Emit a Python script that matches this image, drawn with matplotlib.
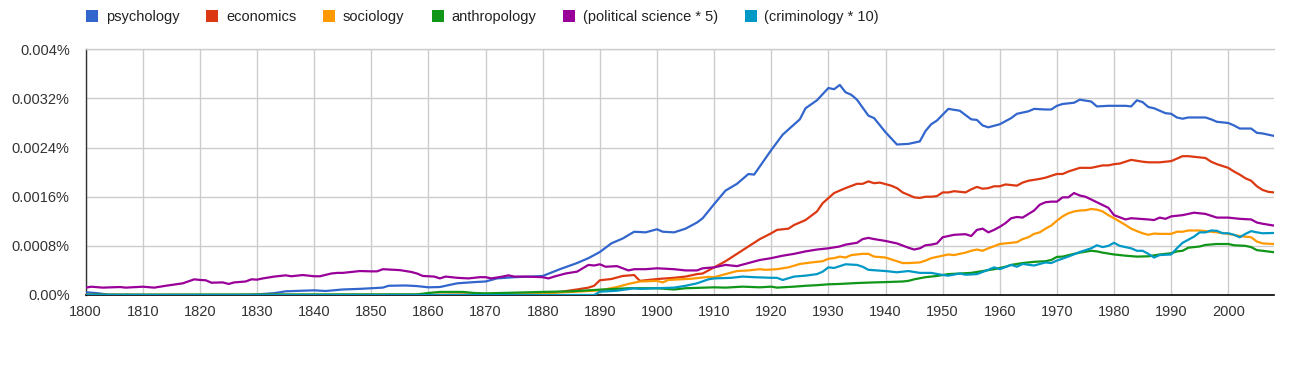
import matplotlib
matplotlib.use("Agg")
import matplotlib.pyplot as plt
from matplotlib.lines import Line2D
import numpy as np

plt.rcParams['font.family'] = ['Liberation Sans', 'DejaVu Sans']

# values are in units of 0.0001 %
psych_years = [1800, 1802, 1804, 1810, 1820, 1828, 1830, 1833, 1835, 1838, 1840, 1842, 1845, 1848, 1850, 1852, 1853, 1856, 1858, 1860, 1862, 1865, 1868, 1870, 1872, 1875, 1878, 1880, 1883, 1886, 1888, 1890, 1892, 1894, 1896, 1898, 1900, 1901, 1903, 1905, 1907, 1908, 1910, 1912, 1914, 1916, 1917, 1920, 1922, 1925, 1926, 1928, 1930, 1931, 1932, 1933, 1934, 1935, 1937, 1938, 1940, 1942, 1944, 1946, 1947, 1948, 1949, 1951, 1953, 1955, 1956, 1957, 1958, 1960, 1962, 1963, 1965, 1966, 1968, 1969, 1970, 1971, 1973, 1974, 1976, 1977, 1979, 1982, 1983, 1984, 1985, 1986, 1987, 1989, 1990, 1991, 1992, 1993, 1996, 1997, 1998, 2000, 2001, 2002, 2004, 2005, 2006, 2008]
psych_vals = [0.45, 0.3, 0.05, 0.0, 0.0, 0.0, 0.1, 0.3, 0.6, 0.7, 0.76, 0.65, 0.9, 1.0, 1.1, 1.2, 1.5, 1.55, 1.45, 1.25, 1.3, 1.9, 2.1, 2.2, 2.7, 2.9, 3.0, 3.1, 4.2, 5.2, 6.0, 7.0, 8.4, 9.2, 10.3, 10.2, 10.7, 10.3, 10.2, 10.8, 11.8, 12.5, 14.8, 17.0, 18.1, 19.7, 19.6, 23.6, 26.1, 28.6, 30.4, 31.7, 33.7, 33.5, 34.2, 33.0, 32.6, 31.8, 29.2, 28.8, 26.5, 24.5, 24.6, 25.0, 26.7, 27.8, 28.4, 30.3, 30.0, 28.6, 28.5, 27.6, 27.3, 27.8, 28.8, 29.5, 29.9, 30.3, 30.2, 30.2, 30.8, 31.1, 31.3, 31.8, 31.5, 30.7, 30.8, 30.8, 30.7, 31.7, 31.4, 30.6, 30.4, 29.6, 29.5, 28.9, 28.7, 28.9, 28.9, 28.6, 28.2, 28.0, 27.6, 27.1, 27.1, 26.4, 26.3, 25.9]

econ_years = [1800, 1860, 1870, 1875, 1880, 1883, 1886, 1888, 1889, 1890, 1892, 1894, 1896, 1897, 1900, 1903, 1905, 1907, 1908, 1910, 1912, 1914, 1916, 1918, 1920, 1921, 1923, 1924, 1926, 1928, 1929, 1931, 1933, 1935, 1936, 1937, 1938, 1939, 1941, 1942, 1943, 1944, 1945, 1946, 1947, 1948, 1949, 1950, 1951, 1952, 1954, 1955, 1956, 1957, 1958, 1959, 1960, 1961, 1963, 1964, 1965, 1967, 1968, 1970, 1971, 1972, 1974, 1976, 1978, 1979, 1980, 1981, 1983, 1985, 1986, 1988, 1990, 1991, 1992, 1993, 1995, 1996, 1997, 1998, 2000, 2001, 2002, 2003, 2004, 2005, 2006, 2007, 2008]
econ_vals = [0.0, 0.0, 0.1, 0.15, 0.27, 0.5, 0.9, 1.2, 1.5, 2.4, 2.6, 3.1, 3.25, 2.3, 2.6, 2.8, 3.0, 3.4, 3.5, 4.5, 5.5, 6.7, 7.9, 9.1, 10.05, 10.6, 10.8, 11.4, 12.2, 13.6, 14.95, 16.6, 17.4, 18.1, 18.1, 18.5, 18.2, 18.3, 17.8, 17.4, 16.7, 16.3, 15.9, 15.8, 16.0, 16.0, 16.1, 16.7, 16.7, 16.9, 16.7, 17.2, 17.6, 17.3, 17.4, 17.7, 17.7, 18.0, 17.8, 18.3, 18.6, 18.9, 19.1, 19.7, 19.7, 20.1, 20.7, 20.7, 21.1, 21.1, 21.3, 21.4, 22.0, 21.7, 21.6, 21.6, 21.8, 22.2, 22.6, 22.6, 22.4, 22.3, 21.7, 21.3, 20.7, 20.1, 19.6, 19.0, 18.6, 17.7, 17.1, 16.8, 16.7]

soc_years = [1800, 1870, 1875, 1880, 1885, 1890, 1893, 1895, 1897, 1900, 1901, 1902, 1906, 1909, 1910, 1912, 1914, 1916, 1918, 1919, 1921, 1923, 1925, 1927, 1929, 1930, 1931, 1932, 1933, 1934, 1936, 1937, 1938, 1940, 1941, 1943, 1944, 1946, 1947, 1948, 1950, 1951, 1952, 1953, 1954, 1955, 1956, 1957, 1958, 1960, 1961, 1963, 1964, 1965, 1966, 1967, 1968, 1969, 1970, 1971, 1972, 1973, 1974, 1975, 1976, 1977, 1978, 1979, 1980, 1981, 1982, 1983, 1984, 1985, 1986, 1987, 1988, 1990, 1991, 1992, 1993, 1995, 1996, 1998, 2000, 2002, 2004, 2005, 2006, 2008]
soc_vals = [0.0, 0.05, 0.15, 0.27, 0.5, 0.75, 1.3, 1.8, 2.2, 2.3, 2.05, 2.45, 2.65, 2.95, 2.9, 3.4, 3.9, 4.0, 4.2, 4.1, 4.2, 4.5, 5.05, 5.3, 5.5, 5.9, 6.0, 6.25, 6.1, 6.5, 6.7, 6.7, 6.25, 6.1, 5.8, 5.2, 5.2, 5.3, 5.6, 6.0, 6.4, 6.6, 6.5, 6.7, 6.9, 7.2, 7.4, 7.2, 7.6, 8.3, 8.4, 8.6, 9.1, 9.4, 9.95, 10.2, 10.8, 11.3, 12.1, 12.8, 13.3, 13.6, 13.75, 13.8, 14.0, 13.9, 13.6, 13.0, 12.5, 11.95, 11.4, 10.8, 10.4, 10.05, 9.8, 10.0, 9.95, 9.95, 10.3, 10.3, 10.5, 10.5, 10.4, 10.2, 9.95, 9.6, 9.4, 8.7, 8.4, 8.3]

anth_years = [1800, 1858, 1860, 1862, 1866, 1868, 1870, 1875, 1880, 1885, 1890, 1895, 1900, 1903, 1905, 1910, 1912, 1915, 1918, 1920, 1921, 1924, 1926, 1928, 1930, 1932, 1935, 1938, 1940, 1943, 1944, 1945, 1947, 1949, 1951, 1955, 1957, 1959, 1961, 1962, 1964, 1966, 1968, 1969, 1970, 1971, 1973, 1974, 1976, 1977, 1978, 1980, 1982, 1984, 1986, 1988, 1990, 1991, 1992, 1993, 1995, 1996, 1998, 2000, 2001, 2003, 2004, 2005, 2006, 2008]
anth_vals = [0.05, 0.1, 0.33, 0.5, 0.5, 0.33, 0.27, 0.38, 0.5, 0.6, 0.87, 1.1, 1.1, 0.9, 1.1, 1.25, 1.2, 1.36, 1.25, 1.36, 1.2, 1.36, 1.5, 1.6, 1.74, 1.8, 1.95, 2.05, 2.1, 2.2, 2.3, 2.55, 2.9, 3.1, 3.4, 3.6, 3.9, 4.2, 4.6, 4.9, 5.2, 5.4, 5.5, 5.7, 6.2, 6.25, 6.7, 6.9, 7.2, 7.1, 6.9, 6.6, 6.4, 6.25, 6.3, 6.6, 6.8, 7.1, 7.2, 7.7, 7.9, 8.15, 8.3, 8.3, 8.1, 8.0, 7.8, 7.3, 7.2, 6.96]

polsci_years = [1800, 1801, 1803, 1806, 1807, 1810, 1812, 1814, 1817, 1819, 1820, 1821, 1822, 1824, 1825, 1826, 1828, 1829, 1830, 1831, 1833, 1835, 1836, 1838, 1840, 1841, 1843, 1844, 1845, 1847, 1848, 1850, 1851, 1852, 1853, 1855, 1857, 1858, 1859, 1861, 1862, 1863, 1865, 1867, 1869, 1870, 1871, 1873, 1874, 1875, 1877, 1880, 1881, 1882, 1884, 1886, 1888, 1889, 1890, 1891, 1893, 1895, 1896, 1898, 1900, 1903, 1905, 1907, 1908, 1910, 1912, 1914, 1916, 1918, 1920, 1922, 1924, 1926, 1928, 1930, 1932, 1933, 1935, 1936, 1937, 1938, 1940, 1942, 1944, 1945, 1946, 1947, 1948, 1949, 1950, 1951, 1952, 1954, 1955, 1956, 1957, 1958, 1959, 1960, 1961, 1962, 1963, 1964, 1966, 1967, 1968, 1969, 1970, 1971, 1972, 1973, 1974, 1975, 1977, 1979, 1980, 1982, 1983, 1986, 1987, 1988, 1989, 1990, 1992, 1994, 1995, 1996, 1997, 1998, 2000, 2002, 2004, 2005, 2006, 2008]
polsci_vals = [1.2, 1.35, 1.2, 1.3, 1.2, 1.35, 1.2, 1.5, 1.9, 2.55, 2.45, 2.4, 2.0, 2.05, 1.8, 2.05, 2.2, 2.55, 2.5, 2.7, 3.0, 3.2, 3.05, 3.25, 3.05, 3.05, 3.5, 3.6, 3.6, 3.8, 3.9, 3.85, 3.85, 4.2, 4.15, 4.05, 3.75, 3.5, 3.1, 3.0, 2.7, 3.0, 2.8, 2.7, 2.9, 2.9, 2.7, 3.0, 3.2, 3.0, 3.0, 2.9, 2.7, 3.0, 3.5, 3.8, 4.9, 4.8, 5.0, 4.6, 4.7, 4.0, 4.2, 4.2, 4.35, 4.2, 4.0, 4.0, 4.35, 4.5, 4.9, 4.7, 5.2, 5.7, 6.0, 6.4, 6.7, 7.1, 7.4, 7.6, 7.9, 8.2, 8.5, 9.1, 9.3, 9.1, 8.8, 8.4, 7.7, 7.4, 7.6, 8.1, 8.2, 8.4, 9.4, 9.6, 9.8, 9.9, 9.6, 10.6, 10.8, 10.2, 10.6, 11.1, 11.7, 12.5, 12.7, 12.6, 13.75, 14.7, 15.1, 15.2, 15.2, 15.9, 15.9, 16.6, 16.2, 16.0, 15.1, 14.2, 13.0, 12.3, 12.5, 12.3, 12.2, 12.6, 12.4, 12.8, 13.0, 13.4, 13.3, 13.2, 12.9, 12.6, 12.6, 12.4, 12.3, 11.8, 11.6, 11.3]

crim_years = [1800, 1889, 1890, 1893, 1896, 1897, 1900, 1903, 1905, 1907, 1909, 1910, 1913, 1915, 1917, 1920, 1921, 1922, 1924, 1926, 1928, 1929, 1930, 1931, 1932, 1933, 1935, 1936, 1937, 1940, 1942, 1944, 1946, 1948, 1950, 1951, 1953, 1954, 1956, 1958, 1959, 1960, 1962, 1963, 1964, 1966, 1968, 1969, 1970, 1972, 1974, 1976, 1977, 1978, 1979, 1980, 1981, 1982, 1983, 1984, 1985, 1986, 1987, 1988, 1990, 1991, 1992, 1994, 1995, 1996, 1997, 1998, 1999, 2000, 2001, 2002, 2003, 2004, 2005, 2006, 2008]
crim_vals = [0.0, 0.0, 0.54, 0.7, 1.1, 1.0, 1.1, 1.2, 1.5, 1.9, 2.55, 2.7, 2.8, 3.0, 2.9, 2.8, 2.8, 2.45, 3.0, 3.15, 3.4, 3.8, 4.5, 4.4, 4.7, 5.0, 4.9, 4.6, 4.1, 3.9, 3.7, 3.9, 3.6, 3.6, 3.26, 3.15, 3.5, 3.3, 3.4, 4.1, 4.5, 4.2, 4.9, 4.6, 5.05, 4.8, 5.3, 5.2, 5.6, 6.25, 7.0, 7.6, 8.1, 7.8, 8.0, 8.5, 8.0, 7.8, 7.6, 7.2, 7.2, 6.7, 6.1, 6.5, 6.6, 7.6, 8.5, 9.5, 10.2, 10.2, 10.5, 10.45, 10.05, 10.05, 9.8, 9.4, 9.95, 10.4, 10.2, 10.05, 10.1]

series_labels = ["psychology", "economics", "sociology", "anthropology",
                 "(political science * 5)", "(criminology * 10)"]
series_colors = ["#3366cc", "#dc3912", "#ff9900", "#109618", "#990099", "#0099c6"]
series_data = [(psych_years, psych_vals), (econ_years, econ_vals),
               (soc_years, soc_vals), (anth_years, anth_vals),
               (polsci_years, polsci_vals), (crim_years, crim_vals)]

x_ticks = list(range(1800, 2001, 10))
y_ticks = [0, 8, 16, 24, 32, 40]
y_tick_labels = ["0.00%", "0.0008%", "0.0016%", "0.0024%", "0.0032%", "0.004%"]

W, H = 1296, 367
fig = plt.figure(figsize=(W / 100, H / 100), dpi=100)
ax = fig.add_axes([85.7 / W, (H - 295) / H, (1274 - 85.7) / W, (295 - 49.3) / H])

for (yrs, vals), col in zip(series_data, series_colors):
    ax.plot(yrs, vals, color=col, lw=1.6, solid_joinstyle='round', zorder=3)

ax.set_xlim(1800, 2008)
ax.set_ylim(0, 40)
ax.set_xticks(x_ticks)
ax.set_yticks(y_ticks)
ax.set_yticklabels(y_tick_labels)
ax.grid(True, color="#cccccc", lw=1.0, zorder=0)
ax.set_axisbelow(True)
ax.tick_params(length=0, labelsize=10.5, labelcolor="#333333")
ax.tick_params(axis='y', pad=11.5)
ax.tick_params(axis='x', pad=7)
for s in ["right"]:
    ax.spines[s].set_visible(False)
ax.spines["top"].set_color("#cccccc")
ax.spines["top"].set_linewidth(1.0)
ax.spines["left"].set_color("#333333")
ax.spines["bottom"].set_color("#000000")
ax.spines["left"].set_linewidth(1.0)
ax.spines["bottom"].set_linewidth(1.2)

handles = [Line2D([], [], marker='s', ls='none', markersize=9, color=c,
                  markeredgewidth=0) for c in series_colors]
fig.legend(handles, series_labels, loc='center left',
           bbox_to_anchor=(86 / W, 1 - 17 / H), ncol=6, frameon=False,
           fontsize=10.5, handlelength=0.85, handletextpad=0.5,
           columnspacing=1.85, borderpad=0, borderaxespad=0,
           labelcolor="#222222")

fig.savefig("out.png", dpi=100)
